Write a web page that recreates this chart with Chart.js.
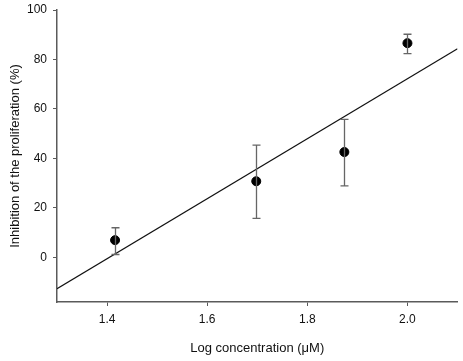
<!DOCTYPE html>
<html>
<head>
<meta charset="utf-8">
<script src="https://cdn.jsdelivr.net/npm/chart.js"></script>
<style>
  html, body { margin: 0; padding: 0; background: #fff; }
  #wrap { width: 463px; height: 361px; }
</style>
</head>
<body>
<div id="wrap"><canvas id="myChart"></canvas></div>
<script>
// data
const logConc = [1.416, 1.698, 1.874, 2.0];
const inhibition = [7.0, 30.8, 42.6, 86.6];
const errUpper = [12.0, 45.4, 55.8, 90.2];
const errLower = [1.2, 15.8, 28.9, 82.4];
const fitX = [1.3, 2.1];
const fitY = [-12.6, 84.3];
const xTicks = [1.4, 1.6, 1.8, 2.0];
const yTicks = [0, 20, 40, 60, 80, 100];

const axisColor = '#5a5a5a';
const font = { family: 'Arial, "Liberation Sans", sans-serif', size: 12 };

// draws error bars for the points dataset
const errorBars = {
    id: 'errorBars',
    afterDatasetsDraw(chart) {
        const ctx = chart.ctx;
        const xs = chart.scales.x, ys = chart.scales.y;
        ctx.save();
        ctx.strokeStyle = '#666';
        ctx.lineWidth = 1.3;
        for (let i = 0; i < logConc.length; i++) {
            const px = Math.round(xs.getPixelForValue(logConc[i])) + 0.5;
            const top = ys.getPixelForValue(errUpper[i]);
            const bot = ys.getPixelForValue(errLower[i]);
            ctx.beginPath();
            ctx.moveTo(px, top); ctx.lineTo(px, bot);
            ctx.moveTo(px - 4, top); ctx.lineTo(px + 4, top);
            ctx.moveTo(px - 4, bot); ctx.lineTo(px + 4, bot);
            ctx.stroke();
        }
        ctx.restore();
    }
};

new Chart(document.getElementById('myChart'), {
    type: 'scatter',
    data: {
        datasets: [{
            label: 'Inhibition',
            data: logConc.map((x, i) => ({ x: x, y: inhibition[i] })),
            backgroundColor: '#000',
            borderColor: '#000',
            pointRadius: 4.5,
            order: 0
        }, {
            label: 'Fit',
            data: fitX.map((x, i) => ({ x: x, y: fitY[i] })),
            showLine: true,
            borderColor: '#111',
            borderWidth: 1.2,
            pointRadius: 0,
            order: 1
        }]
    },
    options: {
        responsive: true,
        maintainAspectRatio: false,
        animation: false,
        layout: { padding: { top: 10, right: 0, left: 0, bottom: 0 } },
        plugins: { legend: { display: false }, tooltip: { enabled: false } },
        scales: {
            x: {
                type: 'linear',
                min: 1.3,
                max: 2.1,
                afterBuildTicks: (s) => { s.ticks = xTicks.map(v => ({ value: v })); },
                afterFit: (s) => { s.height = 59; s.paddingLeft = 0; s.paddingRight = 0; },
                grid: { display: true, drawOnChartArea: false, drawTicks: true, tickLength: 4, color: axisColor },
                border: { display: true, color: axisColor, width: 1.5 },
                ticks: { color: '#111', font: font, padding: 6, maxRotation: 0,
                    callback: (v) => v.toFixed(1) },
                title: { display: true, text: 'Log concentration (\u03bcM)', color: '#111',
                    font: { family: font.family, size: 13 }, padding: { top: 4, bottom: 5 } }
            },
            y: {
                min: -18,
                max: 100,
                afterBuildTicks: (s) => { s.ticks = yTicks.map(v => ({ value: v })); },
                afterFit: (s) => { s.width = 57; s.paddingTop = 0; s.paddingBottom = 0; },
                grid: { display: true, drawOnChartArea: false, drawTicks: true, tickLength: 4, color: axisColor },
                border: { display: true, color: axisColor, width: 1.5 },
                ticks: { color: '#111', font: font, padding: 6 },
                title: { display: true, text: 'Inhibition of the proliferation (%)', color: '#111',
                    font: { family: font.family, size: 13 }, padding: { top: 8, bottom: 4 } }
            }
        }
    },
    plugins: [errorBars]
});
</script>
</body>
</html>
